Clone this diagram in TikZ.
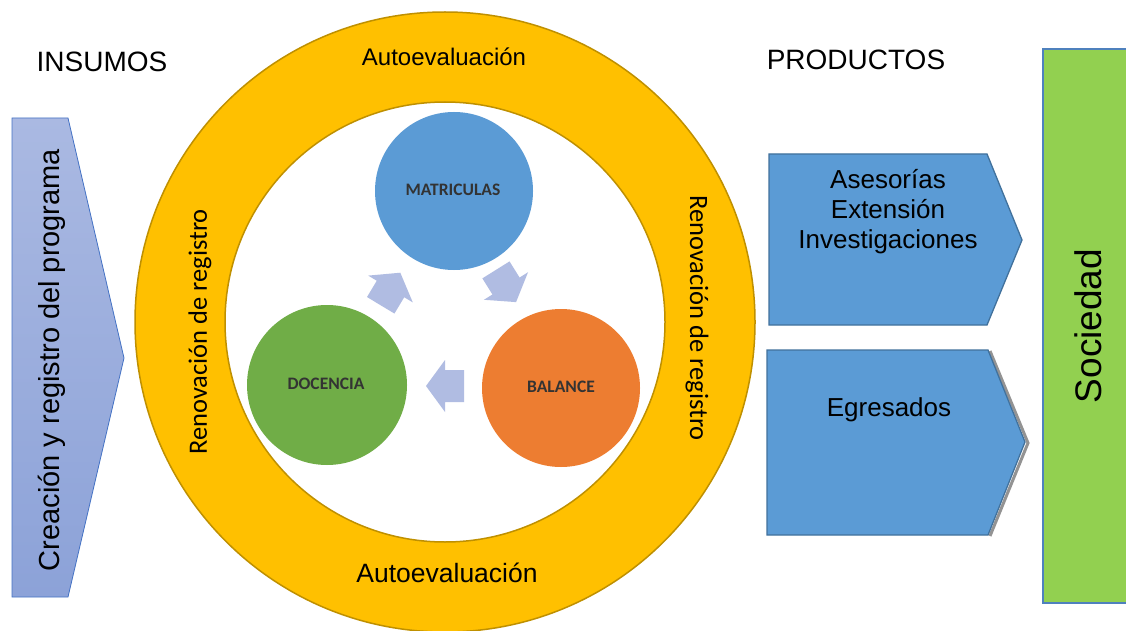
\documentclass[tikz,border=0pt]{standalone}
\usepackage{fontspec}
\setmainfont{Liberation Sans}
\newfontfamily\calibri{Carlito}
\definecolor{ringfill}{HTML}{FFC000}
\definecolor{ringline}{HTML}{BF9000}
\definecolor{cblue}{HTML}{5B9BD5}
\definecolor{cgreen}{HTML}{70AD47}
\definecolor{corange}{HTML}{ED7D31}
\definecolor{lav}{HTML}{B0BCE2}
\definecolor{boxline}{HTML}{41719C}
\definecolor{chevtop}{HTML}{AAB9E2}
\definecolor{chevbot}{HTML}{8CA2D8}
\definecolor{chevline}{HTML}{4472C4}
\definecolor{socfill}{HTML}{92D050}
\definecolor{socline}{HTML}{4F81BD}
\tikzset{
  big/.style={font=\fontsize{28}{32}\selectfont},
  boxtxt/.style={font=\fontsize{26}{30}\selectfont, align=center},
  ringtxt/.style={font=\calibri\fontsize{26.5}{30}\selectfont},
  bubble/.style={circle, inner sep=0pt, minimum size=#1},
  bubtxt/.style={font=\calibri\bfseries\fontsize{17.5}{21}\selectfont, text=black!80},
  prodbox/.style={fill=cblue, draw=boxline, line width=1.3pt, line join=miter},
  cyclearrow/.style={fill=lav},
}
\newcommand{\blockarrow}[3]{%
  \fill[cyclearrow, shift={(#1,#2)}, rotate=#3]
    (-19pt,-16pt) -- (0pt,-16pt) -- (0pt,-26pt) -- (19pt,0pt) -- (0pt,26pt) -- (0pt,16pt) -- (-19pt,16pt) -- cycle;}
\begin{document}
\begin{tikzpicture}[x=1pt,y=-1pt]
\useasboundingbox (0,0) rectangle (1126,631);
\fill[white] (0,0) rectangle (1126,631);

% ring
\node[bubble=620pt, fill=ringfill, draw=ringline, line width=1.5pt] (outer) at (445,322) {};
\node[bubble=440pt, fill=white, draw=ringline, line width=1.5pt] (inner) at (445,322) {};

% ring texts
\node[font=\fontsize{24}{28}\selectfont] (autotop) at (444,57) {Autoevaluación};
\node[font=\fontsize{26.5}{30}\selectfont] (autobot) at (447,573) {Autoevaluación};
\node[ringtxt, rotate=90] (renl) at (200,332) {Renovación de registro};
\node[ringtxt, rotate=-90] (renr) at (697,318) {Renovación de registro};

% bubbles
\node[bubble=158pt, fill=cblue] (mat) at (454,191) {};
\node[bubble=160pt, fill=cgreen] (doc) at (327,385) {};
\node[bubble=158pt, fill=corange] (bal) at (561,388) {};
\node[bubtxt] (mattxt) at (453,190) {MATRICULAS};
\node[bubtxt] (doctxt) at (326,384) {DOCENCIA};
\node[bubtxt] (baltxt) at (561,387) {BALANCE};

% cycle arrows
\blockarrow{390.5}{289}{59}
\blockarrow{506}{286}{-58}
\blockarrow{445}{386}{180}

% headers
\node[big] (insumos) at (102,62) {INSUMOS};
\node[big] (productos) at (856,60) {PRODUCTOS};

% left chevron
\path[draw=chevline, line width=0.8pt, top color=chevtop, bottom color=chevbot]
  (12,118) -- (68,118) -- (124,358) -- (68,597) -- (12,597) -- cycle;
\node[font=\fontsize{29}{32}\selectfont, rotate=90] (crea) at (52,360) {Creación y registro del programa};

% product boxes
\path[prodbox] (769,154) -- (987,154) -- (1022,240) -- (987,325) -- (769,325) -- cycle;
\node[boxtxt] (prod1) at (888,212) {Asesorías\\Extensión\\Investigaciones};

\draw[gray!85, line width=3pt] (990,351) -- (1028,443) -- (990,536);
\path[prodbox] (767,350) -- (988,350) -- (1025,442) -- (988,535) -- (767,535) -- cycle;
\node[boxtxt] (prod2) at (889,410) {Egresados};

% sociedad
\path[fill=socfill, draw=socline, line width=1.5pt] (1043,49) rectangle (1140,603);
\node[font=\fontsize{37}{40}\selectfont, rotate=90] (soc) at (1088,326) {Sociedad};
\end{tikzpicture}
\end{document}
